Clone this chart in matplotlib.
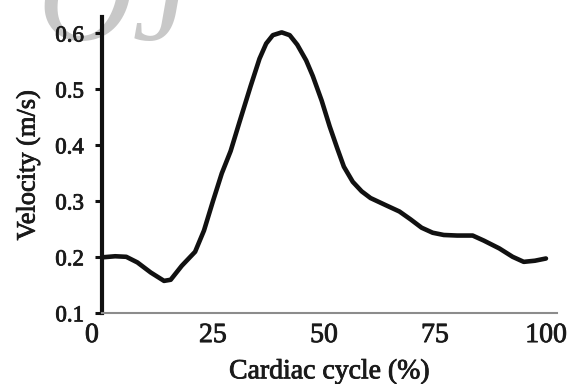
import numpy as np
import matplotlib
matplotlib.use("Agg")
import matplotlib.pyplot as plt
import matplotlib.transforms as mtransforms
import matplotlib.patheffects as pe

# velocity over the cardiac cycle
cycle = [0, 3, 5.5, 8, 11, 14, 15.5, 18, 21, 23, 25, 27, 29, 31, 33.5, 35.5,
         37, 38.5, 40.5, 42.3, 44, 46, 47.5, 49.5, 51.3, 53, 54.5, 56.5, 58.5,
         60.5, 64, 67, 69.5, 72, 74.5, 77, 80, 83.5, 86, 89.5, 92.5, 95,
         97.5, 100]
velocity = [0.200, 0.202, 0.201, 0.191, 0.173, 0.158, 0.160, 0.185, 0.210,
            0.248, 0.300, 0.350, 0.390, 0.442, 0.506, 0.555, 0.582, 0.597,
            0.602, 0.597, 0.580, 0.552, 0.524, 0.480, 0.434, 0.395, 0.362,
            0.335, 0.318, 0.306, 0.293, 0.282, 0.268, 0.253, 0.244, 0.240,
            0.239, 0.239, 0.230, 0.216, 0.201, 0.192, 0.194, 0.198]

xticks = [0, 25, 50, 75, 100]
yticks = [0.1, 0.2, 0.3, 0.4, 0.5, 0.6]

plt.rcParams['font.family'] = ['Liberation Serif', 'DejaVu Serif']

fig = plt.figure(figsize=(5.69, 3.84), dpi=100)
ax = fig.add_axes([0.179, 0.184, 0.800, 0.7725])
ax.patch.set_alpha(0)

# faint watermark cut by the top edge, kept behind everything
fig.text(0.065, 0.895, "OJ", fontsize=95, style='italic', color='#c8c8c8',
         ha='left', va='baseline', zorder=-5)

ax.plot(cycle, velocity, color='#111111', lw=3.3, solid_joinstyle='round',
        solid_capstyle='round', clip_on=False)

ax.set_xlim(0, 102.5)
ax.set_ylim(0.1, 0.63)
ax.set_xticks(xticks)
ax.set_xticklabels([str(t) for t in xticks])
ax.set_yticks(yticks)
ax.set_yticklabels(["%.1f" % t for t in yticks])

for s in ['top', 'right']:
    ax.spines[s].set_visible(False)
ax.spines['left'].set_linewidth(3.0)
ax.spines['left'].set_color('#111111')
ax.spines['bottom'].set_linewidth(1.5)
ax.spines['bottom'].set_color('#8c8c8c')

ax.tick_params(axis='y', length=5, width=2.2, color='#111111', pad=8,
               labelsize=16.5, labelcolor='#1a1a1a')
ax.tick_params(axis='x', length=0, pad=7, labelsize=20, labelcolor='#1a1a1a')

# heavier strokes, the scan looks bolder than plain Times
thick = [pe.withStroke(linewidth=0.6, foreground='#1a1a1a')]
for lbl in ax.get_xticklabels() + ax.get_yticklabels():
    lbl.set_path_effects(thick)

# the "0" label sits a bit left of the axis
lbl0 = ax.get_xticklabels()[0]
lbl0.set_transform(lbl0.get_transform() +
                   mtransforms.ScaledTranslation(-10 / 100, 0, fig.dpi_scale_trans))

ax.set_xlabel('Cardiac cycle (%)', fontsize=20, color='#1a1a1a', labelpad=8,
              path_effects=thick)
ax.set_ylabel('Velocity (m/s)', fontsize=19, color='#1a1a1a', labelpad=11,
              path_effects=thick)

fig.savefig('out.png', dpi=100)
